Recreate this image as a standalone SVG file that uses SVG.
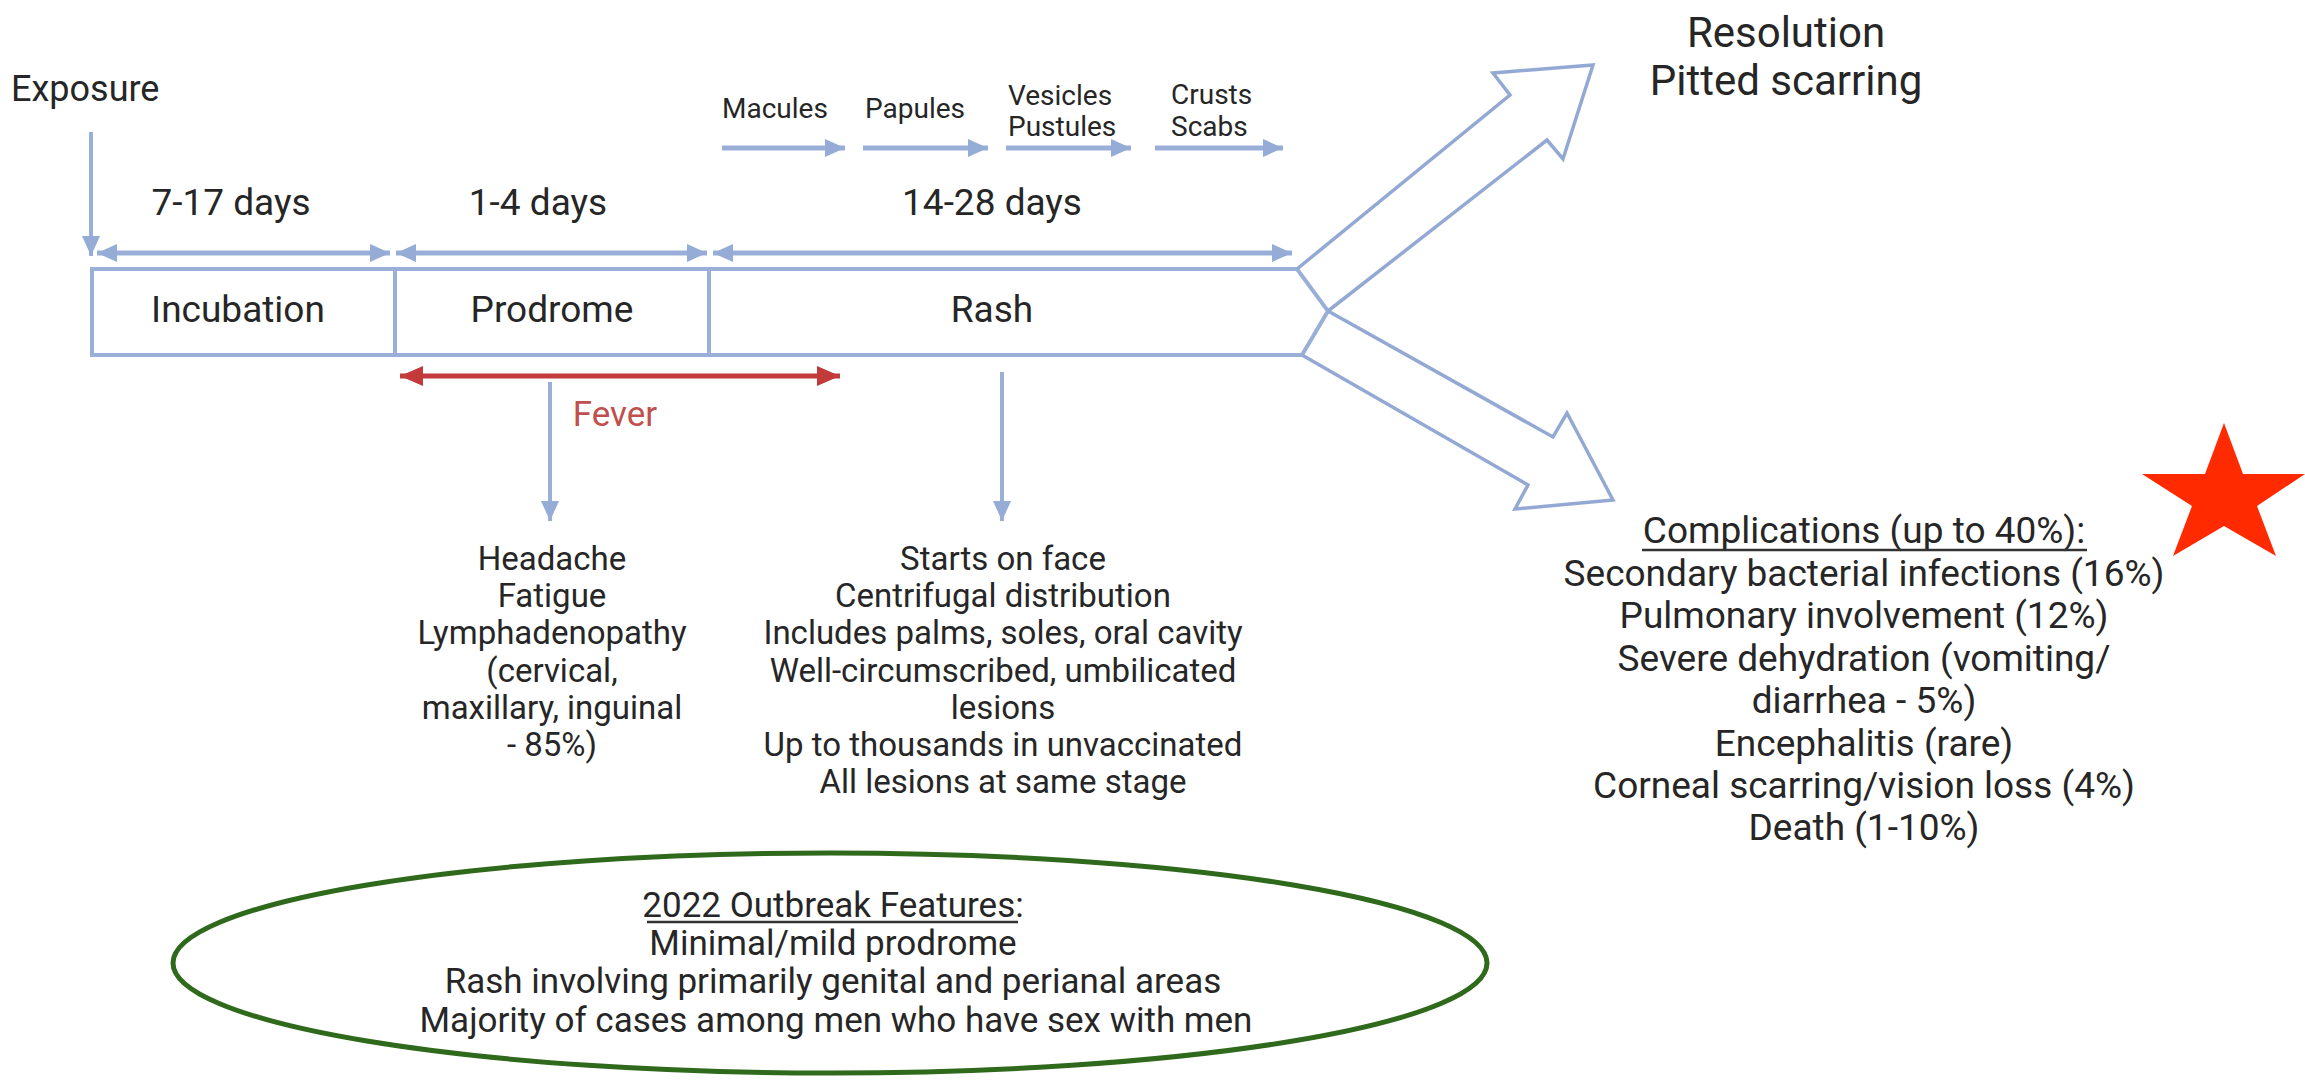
<svg xmlns="http://www.w3.org/2000/svg" width="2305" height="1081" viewBox="0 0 2305 1081">
<defs>
<style>
text{font-family:Roboto,"Liberation Sans",Arial,sans-serif;fill:#262626;}
.t37{font-size:37px;}
.t33{font-size:33px;}
.t28{font-size:28px;}
.t42{font-size:42px;}
.t36{font-size:36px;}
.mid{text-anchor:middle;}
.ln{stroke:#9aafd8;stroke-width:4;fill:none;}
.shaft{stroke:#9aafd8;stroke-width:5;fill:none;}
.big{stroke:#93a9d4;stroke-width:3.5;fill:none;stroke-linejoin:miter;}
.red{stroke:#c23a3a;stroke-width:5;fill:none;}
</style>
<marker id="ah" viewBox="0 0 20 18" refX="20" refY="9" markerWidth="20" markerHeight="18" markerUnits="userSpaceOnUse" orient="auto-start-reverse">
<path d="M0,0 L20,9 L0,18 Z" fill="#95acd7"/>
</marker>
<marker id="ahr" viewBox="0 0 23 20" refX="23" refY="10" markerWidth="23" markerHeight="20" markerUnits="userSpaceOnUse" orient="auto-start-reverse">
<path d="M0,0 L23,10 L0,20 Z" fill="#c23a3a"/>
</marker>
<linearGradient id="g1" gradientUnits="userSpaceOnUse" x1="722" y1="0" x2="800" y2="0"><stop offset="0" stop-color="#d6dff0"/><stop offset="1" stop-color="#9aafd8"/></linearGradient>
<linearGradient id="g2" gradientUnits="userSpaceOnUse" x1="863" y1="0" x2="941" y2="0"><stop offset="0" stop-color="#d6dff0"/><stop offset="1" stop-color="#9aafd8"/></linearGradient>
<linearGradient id="g3" gradientUnits="userSpaceOnUse" x1="1006" y1="0" x2="1084" y2="0"><stop offset="0" stop-color="#d6dff0"/><stop offset="1" stop-color="#9aafd8"/></linearGradient>
<linearGradient id="g4" gradientUnits="userSpaceOnUse" x1="1155" y1="0" x2="1233" y2="0"><stop offset="0" stop-color="#d6dff0"/><stop offset="1" stop-color="#9aafd8"/></linearGradient>
</defs>
<rect width="2305" height="1081" fill="#ffffff"/>

<g id="exposure">
<text class="t36" x="11" y="101">Exposure</text>
</g>

<g id="stages">
<text class="t28" x="722" y="118">Macules</text>
<text class="t28" x="865" y="118">Papules</text>
<text class="t28" x="1008" y="105">Vesicles</text>
<text class="t28" x="1008" y="136">Pustules</text>
<text class="t28" x="1171" y="104">Crusts</text>
<text class="t28" x="1171" y="136">Scabs</text>
</g>

<g id="durations">
<text class="t37 mid" x="231" y="215">7-17 days</text>
<text class="t37 mid" x="538" y="215">1-4 days</text>
<text class="t37 mid" x="992" y="215">14-28 days</text>
</g>

<g id="timeline-box">
<path class="ln" d="M92,269 H1297 L1328,311 L1302,355 H92 Z"/>
<line class="ln" x1="395" y1="269" x2="395" y2="355"/>
<line class="ln" x1="709" y1="269" x2="709" y2="355"/>
<text class="t37 mid" x="238" y="322">Incubation</text>
<text class="t37 mid" x="552" y="322">Prodrome</text>
<text class="t37 mid" x="992" y="322">Rash</text>
</g>

<g id="resolution">
<text class="t42 mid" x="1786" y="47">Resolution</text>
<text class="t42 mid" x="1786" y="95">Pitted scarring</text>
</g>

<g id="fever">
<text class="mid" x="615" y="426" style="font-size:35px;fill:#c0504d">Fever</text>
</g>

<g id="prodrome-symptoms">
<text class="t33 mid" x="552" y="570">Headache</text>
<text class="t33 mid" x="552" y="607">Fatigue</text>
<text class="t33 mid" x="552" y="644">Lymphadenopathy</text>
<text class="t33 mid" x="552" y="682">(cervical,</text>
<text class="t33 mid" x="552" y="719">maxillary, inguinal</text>
<text class="t33 mid" x="552" y="756">- 85%)</text>
</g>

<g id="rash-features">
<text class="t33 mid" x="1003" y="570">Starts on face</text>
<text class="t33 mid" x="1003" y="607">Centrifugal distribution</text>
<text class="t33 mid" x="1003" y="644">Includes palms, soles, oral cavity</text>
<text class="t33 mid" x="1003" y="682">Well-circumscribed, umbilicated</text>
<text class="t33 mid" x="1003" y="719">lesions</text>
<text class="t33 mid" x="1003" y="756">Up to thousands in unvaccinated</text>
<text class="t33 mid" x="1003" y="793">All lesions at same stage</text>
</g>

<g id="complications">
<text class="t37 mid" x="1864" y="543">Complications (up to 40%):</text>
<line x1="1642" y1="550" x2="2087" y2="550" stroke="#333" stroke-width="2.5"/>
<text class="t37 mid" x="1864" y="586">Secondary bacterial infections (16%)</text>
<text class="t37 mid" x="1864" y="628">Pulmonary involvement (12%)</text>
<text class="t37 mid" x="1864" y="671">Severe dehydration (vomiting/</text>
<text class="t37 mid" x="1864" y="713">diarrhea - 5%)</text>
<text class="t37 mid" x="1864" y="756">Encephalitis (rare)</text>
<text class="t37 mid" x="1864" y="798">Corneal scarring/vision loss (4%)</text>
<text class="t37 mid" x="1864" y="840">Death (1-10%)</text>
</g>

<g id="outbreak">
<ellipse cx="830" cy="963" rx="657" ry="110" fill="none" stroke="#2f6a1c" stroke-width="5"/>
<text class="mid" x="833" y="917" style="font-size:35px">2022 Outbreak Features:</text>
<line x1="647" y1="922" x2="1018" y2="922" stroke="#333" stroke-width="2.5"/>
<text class="mid" x="833" y="955" style="font-size:35px">Minimal/mild prodrome</text>
<text class="mid" x="833" y="993" style="font-size:35px">Rash involving primarily genital and perianal areas</text>
<text class="mid" x="836" y="1032" style="font-size:35px">Majority of cases among men who have sex with men</text>
</g>

<g id="star">
<polygon points="2224,423 2243,474 2305,474 2257,506 2276,556 2224,526 2173,556 2192,506 2142,474 2205,474" fill="#ff2a00"/>
</g>

<g id="connectors">
<line class="ln" x1="91" y1="132" x2="91" y2="256" marker-end="url(#ah)"/>
<line class="shaft" x1="97" y1="253" x2="390" y2="253" marker-start="url(#ah)" marker-end="url(#ah)"/>
<line class="shaft" x1="396" y1="253" x2="707" y2="253" marker-start="url(#ah)" marker-end="url(#ah)"/>
<line class="shaft" x1="713" y1="253" x2="1292" y2="253" marker-start="url(#ah)" marker-end="url(#ah)"/>
<line class="shaft" x1="722" y1="148" x2="845" y2="148" stroke="url(#g1)" marker-end="url(#ah)"/>
<line class="shaft" x1="863" y1="148" x2="988" y2="148" stroke="url(#g2)" marker-end="url(#ah)"/>
<line class="shaft" x1="1006" y1="148" x2="1131" y2="148" stroke="url(#g3)" marker-end="url(#ah)"/>
<line class="shaft" x1="1155" y1="148" x2="1283" y2="148" stroke="url(#g4)" marker-end="url(#ah)"/>
<line class="red" x1="400" y1="376" x2="840" y2="376" marker-start="url(#ahr)" marker-end="url(#ahr)"/>
<line class="ln" x1="550" y1="382" x2="550" y2="521" marker-end="url(#ah)"/>
<line class="ln" x1="1002" y1="372" x2="1002" y2="521" marker-end="url(#ah)"/>
<path class="big" d="M1297,269 L1510,95 L1493,73 L1593,65 L1563,159 L1547,140 L1328,311"/>
<path class="big" d="M1328,311 L1553,437 L1567,413 L1613,500 L1515,509 L1528,485 L1302,355"/>
</g>
</svg>
